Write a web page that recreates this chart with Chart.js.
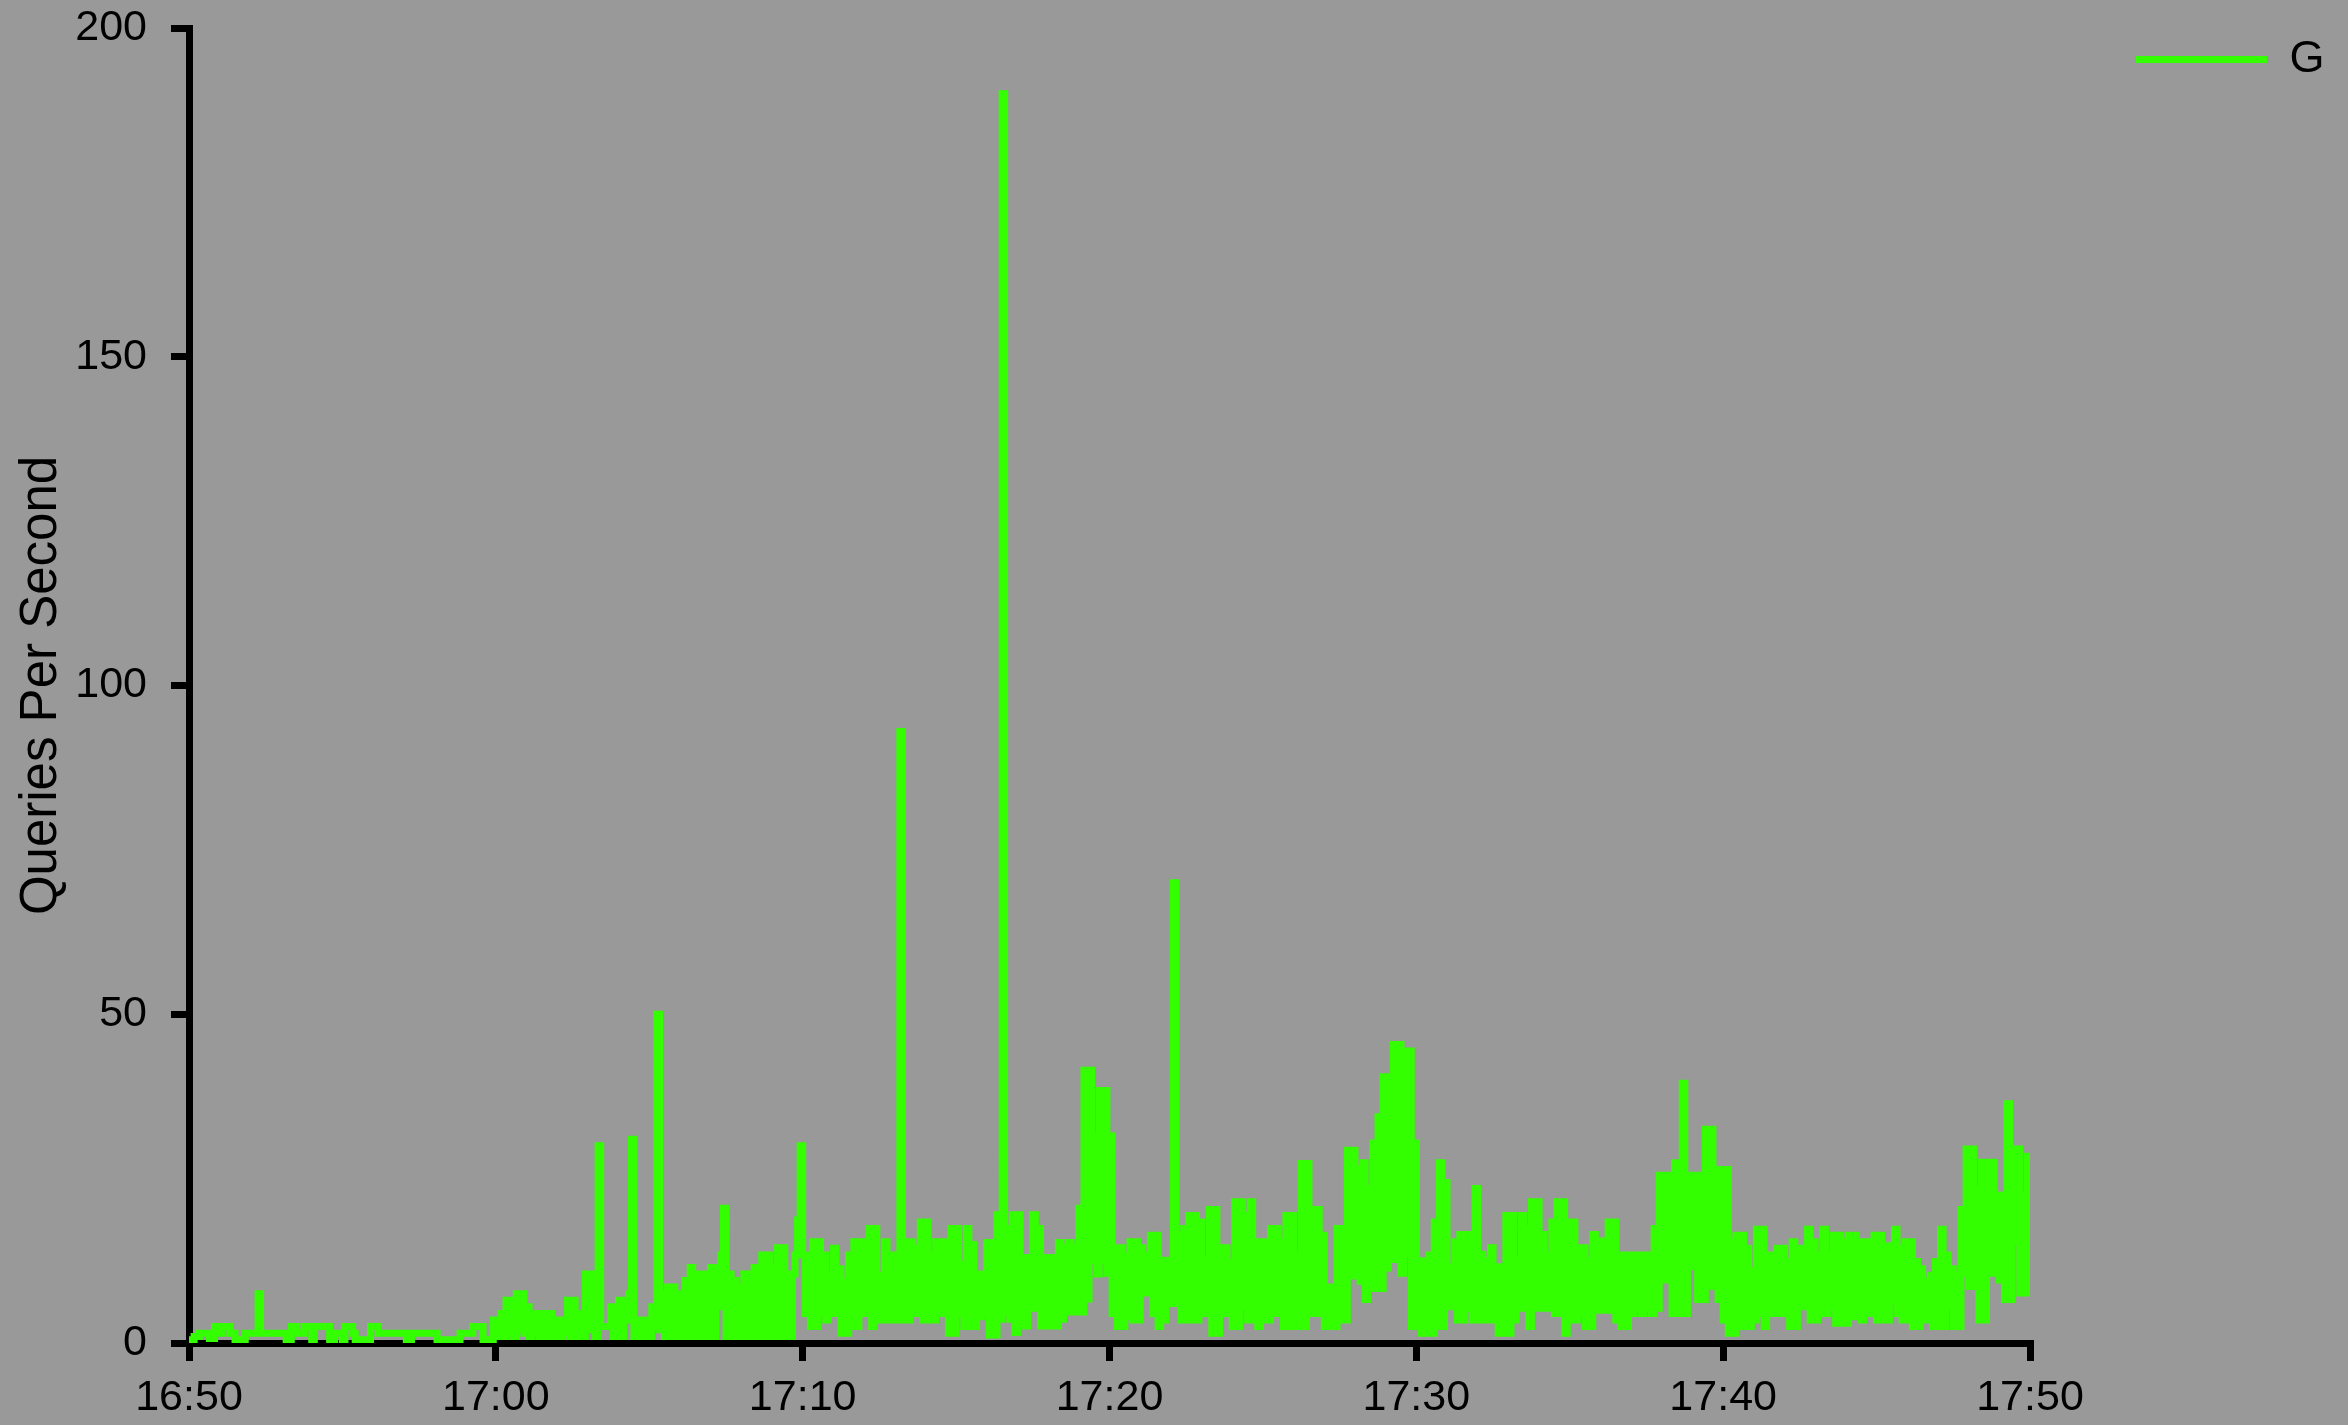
<!DOCTYPE html>
<html>
<head>
<meta charset="utf-8">
<script src="https://cdn.jsdelivr.net/npm/chart.js@4/dist/chart.umd.min.js"></script>
<style>
  html, body { margin: 0; padding: 0; background: #999999; }
  #wrap { width: 2348px; height: 1425px; }
  canvas { display: block; }
</style>
</head>
<body>
<div id="wrap"><canvas id="qps" width="2348" height="1425"></canvas></div>
<script>
// Queries per second, one value per 5-second interval, grouped in 5-minute blocks.
const SERIES_LABEL = 'G';
const STEP_SECONDS = 5;

const xTickSeconds = [0, 600, 1200, 1800, 2400, 3000, 3600];
const xTickLabels = ['16:50', '17:00', '17:10', '17:20', '17:30', '17:40', '17:50'];
const yTickValues = [0, 50, 100, 150, 200];
const yTickLabels = ['0', '50', '100', '150', '200'];

const q1650 = [
  0.5,0.5,1,1,1.5,1.5,1.5,1.5,0.7,0.7,2.5,2.5,
  1.5,2.5,2.5,2.5,1.5,1.5,0.5,0.5,0.5,0.5,1.5,1.5,
  1.5,1.5,1.5,7.5,1.5,1.5,1.5,1.5,1.5,1.5,1.5,1.5,
  1.5,1.5,0.5,0.5,2.5,2.5,1.5,1.5,1.5,2.5,2.5,2.5,
  0.5,2.5,2.5,2.5,2.5,2.5,2.5,0.5,0.5,1.5,1.5,1.5
];
const q1655 = [
  0.5,2.5,2.5,2.5,1.5,0.5,0.5,0.5,0.5,0.5,0.5,2.5,
  2.5,2.5,1.5,1.5,1.5,1.5,1.5,1.5,1.5,1.5,1.5,1.5,
  1.5,0.5,0.5,1.5,1.5,1.5,1.5,1.5,1.5,1.5,1.5,1.5,
  1.5,0.5,0.5,0.5,0.5,0.5,0.5,0.5,0.5,0.5,1.5,1.5,
  1.5,1.5,1.5,2.5,2.5,2.5,2.5,0.5,0.5,0.5,0.5,3.5
];
const q1700 = [
  3.5,1,4.5,1,6.5,1.5,6.5,1,7.5,2,7.5,1.5,
  5.5,1,4.5,1.5,4.5,1,3.5,4.5,1,4.5,3.5,1,
  3.5,1,3.5,1.5,6.5,1,6.5,1,3.5,4.5,1,10.5,
  2,10.5,6.5,1,30,2.5,2.5,2.5,2.5,5.5,1,5.5,
  6.5,1,6.5,3.5,7.5,31,1,3.5,1,3.5,1,3.5
];
const q1705 = [
  1,5.5,2.5,50,2,7.5,1,8.5,1,8.5,6.5,1,
  7.5,1,9.5,1,11.5,1,6.5,10.5,1,10.5,5.5,1,
  11.5,1,11.5,5.5,13.4,20.5,1,10.5,1,9.5,1,8.5,
  1,10.5,1,10.5,1,11.5,1,11.5,13.4,1,13.4,1,
  11.5,1,14.5,1,14.5,1,10.5,1,10.5,13.4,18.7,30
];
const q1710 = [
  13.4,4.5,13.4,2.5,15.4,2.5,15.4,4.5,13.4,3.5,10.3,4.5,
  14.4,4.5,11.3,1.5,9.3,1.5,13.4,2.5,15.4,2.5,15.4,4.5,
  15.4,4.5,17.4,2.5,17.4,3.5,10.3,3.5,15.4,3.5,13.4,3.5,
  13.4,3.5,93,3.5,15.4,3.5,15.4,4.5,14.4,4.5,18.4,3.5,
  18.4,3.5,13.4,3.5,15.4,4.5,15.4,4.5,15.4,1.5,17.4,1.5
];
const q1715 = [
  17.4,4.5,12,2.5,17.4,2.5,15,2.5,10.5,4,10.5,4.5,
  15.3,1.2,15.3,1.2,19.5,3.6,190,4.7,17.4,3.6,19.5,1.6,
  19.5,2.6,13,2.6,13,5.3,19.5,5.3,17.4,2.6,13,2.6,
  13,2.6,13,2.6,15.3,3.6,14.6,4.7,15.3,4.7,14.6,4.7,
  20.5,4.7,41.5,6.7,41.5,12.6,31.5,10.5,38.4,12.6,38.4,10.6
];
const q1720 = [
  31.5,4.5,14.5,2.5,14.5,2.5,13.2,4,15.4,3.5,15.4,3.5,
  14.5,7.6,13.4,7.6,16.4,4.5,16.4,2.5,12.6,3.5,12.6,6,
  12.6,70,6,16.4,3.5,17.4,3.5,19.4,3.5,19.4,3.5,18.4,
  4.5,12.6,4.5,20.3,1.5,20.3,1.5,14.5,4.5,14.5,4.5,12.2,
  2.5,21.5,2.5,21.5,5.5,19.4,3.5,21.5,3.5,15.4,2.5,15.4
];
const q1725 = [
  3.5,15.4,3.5,17.4,4.5,17.4,4.5,15.4,2.5,19.4,2.5,19.4,
  2.5,13.4,2.5,27.3,2.5,27.3,4.5,20.3,4.5,20.3,4.5,16.4,
  2.5,8.5,2.5,8.5,2.5,17.4,3.5,17.4,3.5,29.3,10.2,29.3,
  10.2,26.5,9.4,27.4,6.6,23.5,8.3,30.4,8.3,34.4,8.3,40.5,
  11.4,40.5,12.7,45.4,12.7,45.4,10.6,44.4,13.6,44.4,2.5,30.4
];
const q1730 = [
  2.5,12.5,1.5,12.5,1.5,13.4,1.5,18.4,2.5,27.4,2.5,24.4,
  5.5,11.6,5.5,15.4,3.5,16.5,3.5,16.5,5.3,16.5,3.5,23.5,
  3.5,13.5,3.5,12.5,3.5,14.5,3.5,11.6,1.5,11.6,1.5,19.4,
  1.5,19.4,3.5,12.5,5.3,19.4,5.3,17.4,2.5,21.5,5.3,21.5,
  5.3,16.5,5.3,13.4,5.3,18.4,4.5,21.5,4.5,21.5,1.5,18.4
];
const q1735 = [
  3.5,18.4,3.5,14.5,4.5,14.5,2.5,12.5,2.5,16.5,5,15.5,
  5,15.5,5,18.4,5,18.4,3.5,13.4,2.5,13.4,2.5,13.4,
  4.5,13.4,5.3,13.4,4.5,13.4,5.3,13.4,4.5,17.4,5.3,25.5,
  9.6,25.5,9.6,25.5,4.5,27.4,4.5,27.4,39.5,4.5,11.6,25.5,
  11.6,25.5,6.6,25.5,6.6,32.5,8.6,32.5,8.6,26.4,6.6,26.4
];
const q1740 = [
  3.5,26.4,1.5,15.4,1.5,16.4,2.5,16.4,2.5,14.4,2.5,11,
  3.5,17.3,4.5,17.3,2.5,13.4,4.5,13.4,4.5,14.4,4.5,14.4,
  4.5,12.4,2.5,15.4,2.5,14.4,5.5,14.4,5.5,17.3,3.5,15.4,
  3.5,13.4,4.5,17.3,4.5,13.4,5.5,16.4,3,16.4,3,15.4,
  3,16.4,4,16.4,4,15.4,3.5,15.4,4.5,15.4,4.5,16.4
];
const q1745 = [
  3.5,16.4,3.5,14.8,3.5,14.8,6.6,17.3,4.5,14.4,3.5,15.4,
  3.5,15.4,2.5,12.4,2.5,11.3,3.5,9.3,3.5,10.3,2.5,12.4,
  2.5,17.3,2.5,13.4,5.5,11.3,2.5,10.3,2.5,20.3,10.6,29.5,
  8.6,29.5,8.6,23.4,3.5,27.5,3.5,27.5,10.6,27.5,10.6,22.5,
  9.6,22.5,6.6,36.4,6.6,29.5,15.4,29.5,7.6,22.5,7.6,28.4
];

const blocks = [q1650, q1655, q1700, q1705, q1710, q1715, q1720, q1725, q1730, q1735, q1740, q1745];
const values = blocks.flat();
// Each value holds for its 5-second interval; the closing point ends the last step at 17:50.
const points = values.map((v, i) => ({ x: i * STEP_SECONDS, y: v }));
points.push({ x: values.length * STEP_SECONDS, y: values[values.length - 1] });

const FONT = "'Liberation Sans', Arial, Helvetica, sans-serif";
const LINE_GREEN = '#33ff00';
const INK = '#000000';
const LEGEND_FONT = 45, LEGEND_BOX = 131, LEGEND_PAD = 10;
const CANVAS_W = 2348, PLOT_RIGHT = 2030;

function legendWidth() {
  const c = document.createElement('canvas').getContext('2d');
  c.font = LEGEND_FONT + 'px ' + FONT;
  return LEGEND_PAD + LEGEND_BOX + LEGEND_FONT / 2 + c.measureText(SERIES_LABEL).width + 10;
}

// Places the legend in the upper right corner, beside the plot.
const legendSpot = {
  id: 'legendSpot',
  afterLayout(chart, args, opts) {
    const lg = chart.legend;
    if (!lg) return;
    const w = lg.right - lg.left, h = lg.bottom - lg.top;
    lg.left = opts.left; lg.right = opts.left + w;
    lg.top = opts.top; lg.bottom = opts.top + h;
  }
};

new Chart(document.getElementById('qps'), {
  type: 'line',
  data: {
    datasets: [{
      label: SERIES_LABEL,
      data: points,
      borderColor: LINE_GREEN,
      backgroundColor: LINE_GREEN,
      borderWidth: 7,
      stepped: true,
      pointRadius: 0,
      pointHoverRadius: 0,
      fill: false,
      tension: 0,
      borderCapStyle: 'butt',
      borderJoinStyle: 'miter'
    }]
  },
  options: {
    responsive: false,
    animation: false,
    devicePixelRatio: 1,
    events: [],
    layout: { padding: { top: 28, right: CANVAS_W - PLOT_RIGHT - legendWidth(), bottom: 0, left: 0 } },
    scales: {
      x: {
        type: 'linear',
        min: xTickSeconds[0],
        max: xTickSeconds[xTickSeconds.length - 1],
        z: 1,
        afterBuildTicks: (s) => { s.ticks = xTickSeconds.map(v => ({ value: v })); },
        afterFit: (s) => { s.height = 82; s.paddingLeft = 0; s.paddingRight = 0; },
        ticks: {
          callback: (v) => xTickLabels[xTickSeconds.indexOf(v)],
          color: INK,
          font: { family: FONT, size: 43 },
          padding: 11,
          maxRotation: 0,
          autoSkip: false
        },
        grid: { drawOnChartArea: false, drawTicks: true, tickLength: 18, tickWidth: 7, tickColor: INK, color: INK, lineWidth: 7 },
        border: { display: true, color: INK, width: 7 }
      },
      y: {
        type: 'linear',
        min: yTickValues[0],
        max: yTickValues[yTickValues.length - 1],
        z: 1,
        afterBuildTicks: (s) => { s.ticks = yTickValues.map(v => ({ value: v })); },
        afterFit: (s) => { s.width = 189; s.paddingTop = 0; s.paddingBottom = 0; },
        ticks: {
          callback: (v) => yTickLabels[yTickValues.indexOf(v)],
          color: INK,
          font: { family: FONT, size: 43 },
          padding: 24
        },
        grid: { drawOnChartArea: false, drawTicks: true, tickLength: 18, tickWidth: 7, tickColor: INK, color: INK, lineWidth: 7 },
        border: { display: true, color: INK, width: 7 },
        title: {
          display: true,
          text: 'Queries Per Second',
          color: INK,
          font: { family: FONT, size: 51 },
          padding: { top: 11, bottom: 0 }
        }
      }
    },
    plugins: {
      tooltip: { enabled: false },
      legendSpot: { left: 2126, top: 27 },
      legend: {
        position: 'right',
        align: 'start',
        labels: {
          boxWidth: LEGEND_BOX,
          boxHeight: 7,
          padding: LEGEND_PAD,
          color: INK,
          font: { family: FONT, size: LEGEND_FONT },
          generateLabels: (chart) => chart.data.datasets.map((ds, i) => ({
            text: ds.label,
            fillStyle: ds.borderColor,
            strokeStyle: ds.borderColor,
            lineWidth: 0,
            hidden: false,
            datasetIndex: i,
            fontColor: INK
          }))
        }
      }
    }
  },
  plugins: [legendSpot]
});
</script>
</body>
</html>
